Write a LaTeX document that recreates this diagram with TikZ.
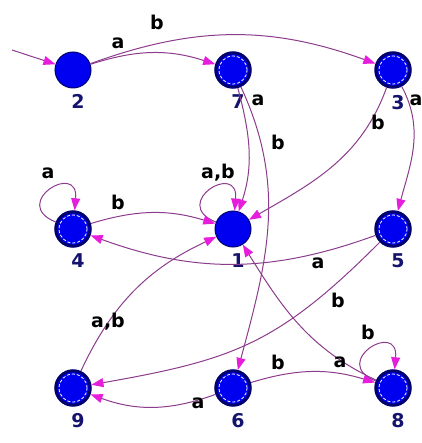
\documentclass[tikz,border=0pt]{standalone}
\usepackage{fontspec}
\setmainfont{DejaVu Sans}
\usetikzlibrary{arrows.meta, positioning}
\definecolor{Edge}{RGB}{140,60,140}
\definecolor{Tip} {RGB}{230,30,220}
\definecolor{Fill}{RGB}{0,0,240}
\definecolor{Ring}{RGB}{0,0,110}
\definecolor{Num} {RGB}{20,20,110}
\tikzset{
  st/.style={circle, fill=Fill, draw=Ring, line width=1pt, minimum size=36pt, inner sep=0pt},
  acc/.style={st, line width=3pt, minimum size=34.5pt,
              path picture={\draw[white, densely dashed, line width=0.8pt]
                (path picture bounding box.center) circle (14pt);}},
  num/.style={font=\fontsize{19}{19}\selectfont\bfseries, text=Num, inner sep=0pt, xshift=5pt, yshift=-6pt},
  lbl/.style={font=\fontsize{19}{19}\selectfont\bfseries, inner sep=0pt},
  tr/.style={-{Triangle[length=12pt,width=9pt,color=Tip]}, draw=Edge, line width=1pt},
  selfloop/.style={out=158, in=85, min distance=50pt}
}
\begin{document}
\begin{tikzpicture}[x=1pt, y=1pt, on grid, node distance=159pt and 160pt]
  \useasboundingbox (0,0) rectangle (421,-443);
  % states
  \node[st,  label={[num]below:2}] (S2) at (73,-70) {};
  \node[acc, label={[num]below:7}, right=of S2] (S7) {};
  \node[acc, label={[num]below:3}, right=of S7] (S3) {};
  \node[acc, label={[num]below:4}, below=of S2] (S4) {};
  \node[st,  label={[num]below:1}, right=of S4] (S1) {};
  \node[acc, label={[num]below:5}, right=of S1] (S5) {};
  \node[acc, label={[num]below:9}, below=of S4] (S9) {};
  \node[acc, label={[num]below:6}, right=of S9] (S6) {};
  \node[acc, label={[num]below:8}, right=of S6] (S8) {};
  \coordinate (init) at (12,-50);
  % transitions
  \draw[tr] (init) -- (S2);
  \draw[tr] (S2) to[out=18,in=162] (S7);
  \draw[tr] (S2) to[out=20,in=160] (S3);
  \draw[tr] (S7) to[out=-75,in=72] (S1);
  \draw[tr] (S7) to[out=-65,in=75] (S6);
  \draw[tr] (S3) to[out=-110,in=30] (S1);
  \draw[tr] (S3) to[out=-62,in=75] (S5);
  \draw[tr] (S4) to[selfloop] (S4);
  \draw[tr] (S1) to[selfloop] (S1);
  \draw[tr] (S8) to[selfloop] (S8);
  \draw[tr] (S4) to[out=17,in=163] (S1);
  \draw[tr] (S5) to[out=200,in=-20] (S4);
  \draw[tr] (S5) to[out=-135,in=10,looseness=1.15] (S9);
  \draw[tr] (S9) to[out=65,in=205] (S1);
  \draw[tr] (S6) to[out=200,in=-20] (S9);
  \draw[tr] (S6) to[out=17,in=163] (S8);
  \draw[tr] (S8) to[out=155,in=-58] (S1);
  % labels
  \node[lbl] (l27) at (118,-43) {a};
  \node[lbl] (l23) at (157,-22) {b};
  \node[lbl] (l71) at (258,-100) {a};
  \node[lbl] (l76) at (278,-142) {b};
  \node[lbl] (l31) at (378,-122) {b};
  \node[lbl] (l35) at (416,-100) {a};
  \node[lbl] (l44) at (48,-173) {a};
  \node[lbl] (l11) at (218,-173) {a,b};
  \node[lbl] (l41) at (118,-202) {b};
  \node[lbl] (l54) at (318,-263) {a};
  \node[lbl] (l59) at (338,-300) {b};
  \node[lbl] (l91) at (108,-322) {a,b};
  \node[lbl] (l69) at (198,-403) {a};
  \node[lbl] (l68) at (278,-362) {b};
  \node[lbl] (l81) at (340,-362) {a};
  \node[lbl] (l88) at (368,-332) {b};
\end{tikzpicture}
\end{document}
